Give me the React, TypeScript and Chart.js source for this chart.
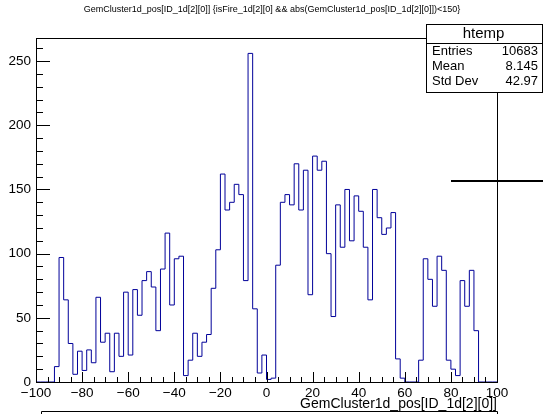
import React, { useEffect, useRef } from "react";
import { Chart, registerables } from "chart.js";

Chart.register(...registerables);

// Histogram binning: 100 bins of width 2 between -100 and 100
const binLow = -100;
const binWidth = 2;
const counts = [
  0, 0, 0, 0, 12, 97, 64, 30, 6, 24,
  9, 25, 15, 66, 31, 38, 8, 38, 20, 70,
  21, 72, 52, 79, 86, 74, 40, 88, 116, 60,
  96, 98, 5, 17, 38, 20, 31, 37, 73, 103,
  162, 134, 140, 154, 146, 79, 256, 57, 7, 21,
  2, 3, 91, 140, 146, 138, 170, 134, 165, 68,
  176, 165, 172, 100, 51, 138, 105, 150, 110, 145,
  133, 105, 64, 150, 128, 115, 120, 132, 18, 3,
  0, 0, 0, 17, 96, 80, 59, 98, 87, 17,
  10, 5, 79, 59, 87, 40, 0, 0, 0, 0,
];

const xTickValues = [-100, -80, -60, -40, -20, 0, 20, 40, 60, 80, 100];
const yTickValues = [0, 50, 100, 150, 200, 250];
const yMax = 268;

const plotTitle =
  "GemCluster1d_pos[ID_1d[2][0]] {isFire_1d[2][0] && abs(GemCluster1d_pos[ID_1d[2][0]])<150}";
const xTitle = "GemCluster1d_pos[ID_1d[2][0]]";
const histName = "htemp";
const statLabels = ["Entries", "Mean", "Std Dev"];
const statValues = ["10683", "8.145", "42.97"];

const FONT = "'Liberation Sans', Arial, Helvetica, sans-serif";
const LINE_COLOR = "rgb(0,0,153)";

const fmt = (v: number) => (v < 0 ? "\u2212" + Math.abs(v) : String(v));

// ROOT-style frame, inner ticks, stats box and titles
const rootDecorations = {
  id: "rootDecorations",
  afterDraw(chart: any) {
    const { ctx, chartArea } = chart;
    const xs = chart.scales.x;
    const ys = chart.scales.y;
    const L = chartArea.left;
    const R = chartArea.right;
    const T = chartArea.top;
    const B = chartArea.bottom;
    ctx.save();

    // frame
    ctx.strokeStyle = "#000";
    ctx.lineWidth = 1;
    ctx.strokeRect(Math.round(L) + 0.5, Math.round(T) + 0.5, Math.round(R - L), Math.round(B - T));

    // x ticks (inside the frame)
    ctx.beginPath();
    for (let v = -100; v <= 100; v += 5) {
      const px = Math.round(xs.getPixelForValue(v)) + 0.5;
      const len = v % 20 === 0 ? 10 : 5;
      ctx.moveTo(px, B);
      ctx.lineTo(px, B - len);
    }
    // y ticks
    for (let v = 0; v <= yMax; v += 10) {
      const py = Math.round(ys.getPixelForValue(v)) + 0.5;
      const len = v % 50 === 0 ? 14 : 7;
      ctx.moveTo(L, py);
      ctx.lineTo(L + len, py);
    }
    ctx.stroke();

    // title
    ctx.fillStyle = "#000";
    ctx.font = `9px ${FONT}`;
    ctx.textAlign = "center";
    ctx.textBaseline = "middle";
    ctx.fillText(plotTitle, 272, 10);

    // stats box
    const bx = 426.5, by = 24.5, bw = 116, bh = 68;
    ctx.fillStyle = "#fff";
    ctx.fillRect(bx, by, bw, bh);
    ctx.strokeRect(bx, by, bw, bh);
    ctx.beginPath();
    ctx.moveTo(bx, 43.5);
    ctx.lineTo(bx + bw, 43.5);
    ctx.stroke();
    ctx.fillStyle = "#000";
    ctx.font = `15px ${FONT}`;
    ctx.textAlign = "center";
    ctx.fillText(histName, bx + bw / 2 - 1, 34);
    ctx.font = `13px ${FONT}`;
    statLabels.forEach((lab, i) => {
      const y = 51.5 + i * 15;
      ctx.textAlign = "left";
      ctx.fillText(lab, 432, y);
      ctx.textAlign = "right";
      ctx.fillText(statValues[i], 538, y);
    });

    // extra marker line on the right
    ctx.lineWidth = 2;
    ctx.beginPath();
    ctx.moveTo(451, 181);
    ctx.lineTo(543, 181);
    ctx.stroke();

    // x-axis title
    ctx.font = `14px ${FONT}`;
    ctx.textAlign = "right";
    ctx.textBaseline = "alphabetic";
    ctx.fillText(xTitle, R, 408);

    // lower box edge
    ctx.lineWidth = 1;
    ctx.beginPath();
    ctx.moveTo(41.5, 414);
    ctx.lineTo(41.5, 411.5);
    ctx.lineTo(Math.round(R) + 0.5, 411.5);
    ctx.lineTo(Math.round(R) + 0.5, 414);
    ctx.stroke();

    ctx.restore();
  },
};

export default function App() {
  const canvasRef = useRef<HTMLCanvasElement | null>(null);

  useEffect(() => {
    const canvas = canvasRef.current;
    if (!canvas) return;

    const points = counts.map((c, i) => ({ x: binLow + i * binWidth, y: c }));
    points.unshift({ x: binLow, y: 0 });
    points.push({ x: binLow + counts.length * binWidth, y: 0 });

    const chart = new Chart(canvas, {
      type: "line",
      data: {
        datasets: [
          {
            data: points,
            stepped: "before",
            borderColor: LINE_COLOR,
            borderWidth: 1,
            pointRadius: 0,
            fill: false,
          },
        ],
      },
      options: {
        animation: false,
        responsive: false,
        devicePixelRatio: 1,
        layout: { padding: { left: 0, top: 38, right: 46, bottom: 0 } },
        plugins: { legend: { display: false }, tooltip: { enabled: false } },
        scales: {
          x: {
            type: "linear",
            min: -100,
            max: 100,
            grid: { display: false, drawTicks: false },
            border: { display: false },
            afterBuildTicks: (s: any) => {
              s.ticks = xTickValues.map((v) => ({ value: v }));
            },
            afterFit: (s: any) => {
              s.height = 32;
            },
            ticks: {
              autoSkip: false,
              maxRotation: 0,
              padding: 3,
              color: "#000",
              font: { family: FONT, size: 13.5 },
              callback: (v: any) => fmt(Number(v)),
            },
          },
          y: {
            type: "linear",
            min: 0,
            max: yMax,
            grid: { display: false, drawTicks: false },
            border: { display: false },
            afterBuildTicks: (s: any) => {
              s.ticks = yTickValues.map((v) => ({ value: v }));
            },
            afterFit: (s: any) => {
              s.width = 36;
            },
            ticks: {
              padding: 5,
              color: "#000",
              font: { family: FONT, size: 13.5 },
              callback: (v: any) => fmt(Number(v)),
            },
          },
        },
      },
      plugins: [rootDecorations],
    });

    return () => chart.destroy();
  }, []);

  return (
    <div style={{ position: "fixed", left: 0, top: 0, width: 543, height: 414, background: "#fff" }}>
      <canvas ref={canvasRef} width={543} height={414} style={{ width: 543, height: 414, display: "block" }} />
    </div>
  );
}
